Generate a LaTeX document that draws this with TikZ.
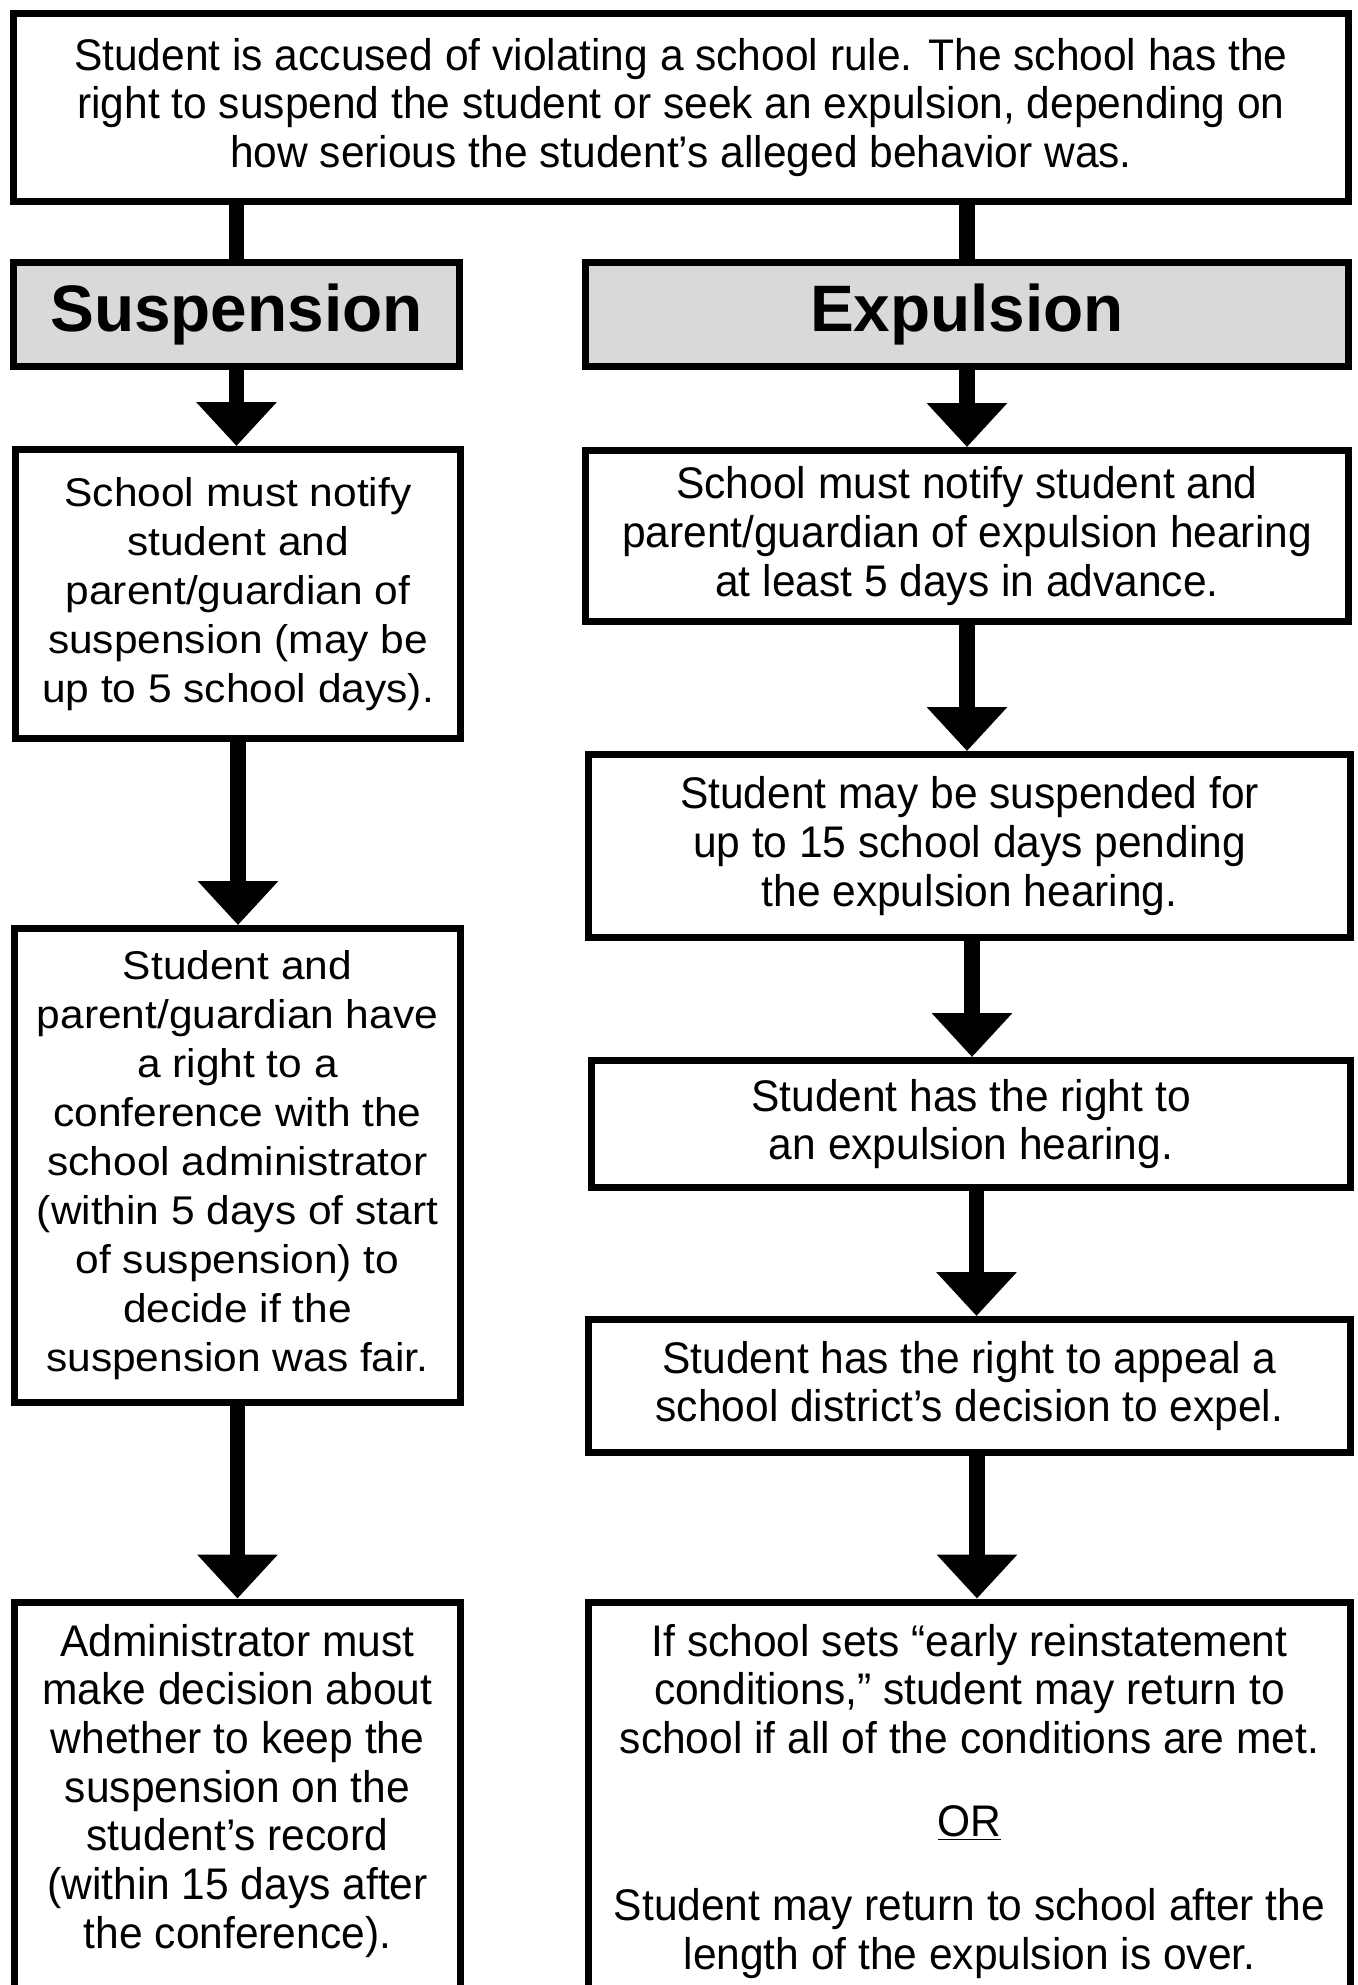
\documentclass[tikz,border=0pt]{standalone}
\usepackage{fontspec}
\setmainfont{Liberation Sans}
\newfontfamily\narrowfont{Liberation Sans}[FakeStretch=0.96]
\newfontfamily\widefont{Liberation Sans}[FakeStretch=1.06]
\usetikzlibrary{arrows.meta}
\definecolor{headgray}{HTML}{D9D9D9}

\begin{document}
\begin{tikzpicture}[x=0.02cm, y=-0.02cm,
  box/.style={draw, line width=0.14cm, align=center, inner sep=0pt, fill=white},
  narrowtext/.style={font=\narrowfont\fontsize{25.2}{27.7}\selectfont},
  widetext/.style={font=\widefont\fontsize{22.8}{27.9}\selectfont},
  headbox/.style={box, fill=headgray, font=\bfseries\fontsize{37.4}{40}\selectfont},
  link/.style={line width=0.31cm},
  flow/.style={link, -{Triangle[width=1.56cm,length=0.88cm]}}]

  \def\px{0.02cm}
  \useasboundingbox (0,0) rectangle (1358,1985);
  \clip (0,0) rectangle (1358,1985);

  %% ── Accusation ────────────────────────────
  \node[box, narrowtext, minimum width=1335*\px, minimum height=188*\px] (accused) at (681,107.5)
    {Student is accused of violating a school rule. The school has the\\
     right to suspend the student or seek an expulsion, depending on\\
     how serious the student’s alleged behavior was.};

  %% ── Headings ──────────────────────────────
  \node[headbox, minimum width=446*\px, minimum height=104*\px] (susp) at (236.5,314.5) {Suspension};
  \node[headbox, minimum width=763*\px, minimum height=104*\px] (expu) at (967,314.5) {Expulsion};

  %% ── Suspension (left) ─────────────────────
  \node[box, widetext, minimum width=445*\px, minimum height=289*\px] (susp1) at (238,594)
    {School must notify\\ student and\\ parent/guardian of\\
     suspension (may be\\ up to 5 school days).};
  \node[box, widetext, minimum width=446*\px, minimum height=474*\px] (susp2) at (237.5,1165.5)
    {Student and\\ parent/guardian have\\ a right to a\\ conference with the\\
     school administrator\\ (within 5 days of start\\ of suspension) to\\
     decide if the\\ suspension was fair.};
  \node[box, narrowtext, minimum width=446*\px, inner ysep=22*\px, anchor=north] (susp3) at (237.5,1598.5)
    {Administrator must\\ make decision about\\ whether to keep the\\
     suspension on the\\ student’s record\\ (within 15 days after\\
     the conference).\\[2cm]~};

  %% ── Expulsion (right) ─────────────────────
  \node[box, narrowtext, minimum width=763*\px, minimum height=171*\px] (expu1) at (967,536)
    {School must notify student and\\ parent/guardian of expulsion hearing\\
     at least 5 days in advance.};
  \node[box, narrowtext, minimum width=762*\px, minimum height=183*\px] (expu2) at (969.5,846)
    {Student may be suspended for\\ up to 15 school days pending\\
     the expulsion hearing.};
  \node[box, narrowtext, minimum width=759*\px, minimum height=127*\px] (expu3) at (971,1124)
    {Student has the right to\\ an expulsion hearing.};
  \node[box, narrowtext, minimum width=762*\px, minimum height=133*\px] (expu4) at (969.5,1386)
    {Student has the right to appeal a\\ school district’s decision to expel.};
  \node[box, narrowtext, minimum width=762*\px, inner ysep=22*\px, anchor=north] (expu5) at (969.5,1598.5)
    {If school sets “early reinstatement\\ conditions,” student may return to\\
     school if all of the conditions are met.\\[19.8pt]
     \underline{OR}\\[19.8pt]
     Student may return to school after the\\ length of the expulsion is over.\\[2cm]~};

  %% ── Connectors ────────────────────────────
  \draw[link] (susp.north |- accused.south) -- (susp.north);
  \draw[link] (expu.north |- accused.south) -- (expu.north);

  \draw[flow] (susp.south)  -- (susp.south |- susp1.north);
  \draw[flow] (susp1.south) -- (susp1.south |- susp2.north);
  \draw[flow] (susp2.south) -- (susp2.south |- susp3.north);

  \draw[flow] (expu.south)  -- (expu.south |- expu1.north);
  \draw[flow] (expu1.south) -- (expu1.south |- expu2.north);
  \draw[flow] ([xshift=2.5*\px]expu2.south) -- ([xshift=2.5*\px]expu2.south |- expu3.north);
  \draw[flow] ([xshift=5.5*\px]expu3.south) -- ([xshift=5.5*\px]expu3.south |- expu4.north);
  \draw[flow] ([xshift=7.5*\px]expu4.south) -- ([xshift=7.5*\px]expu4.south |- expu5.north);

\end{tikzpicture}
\end{document}
